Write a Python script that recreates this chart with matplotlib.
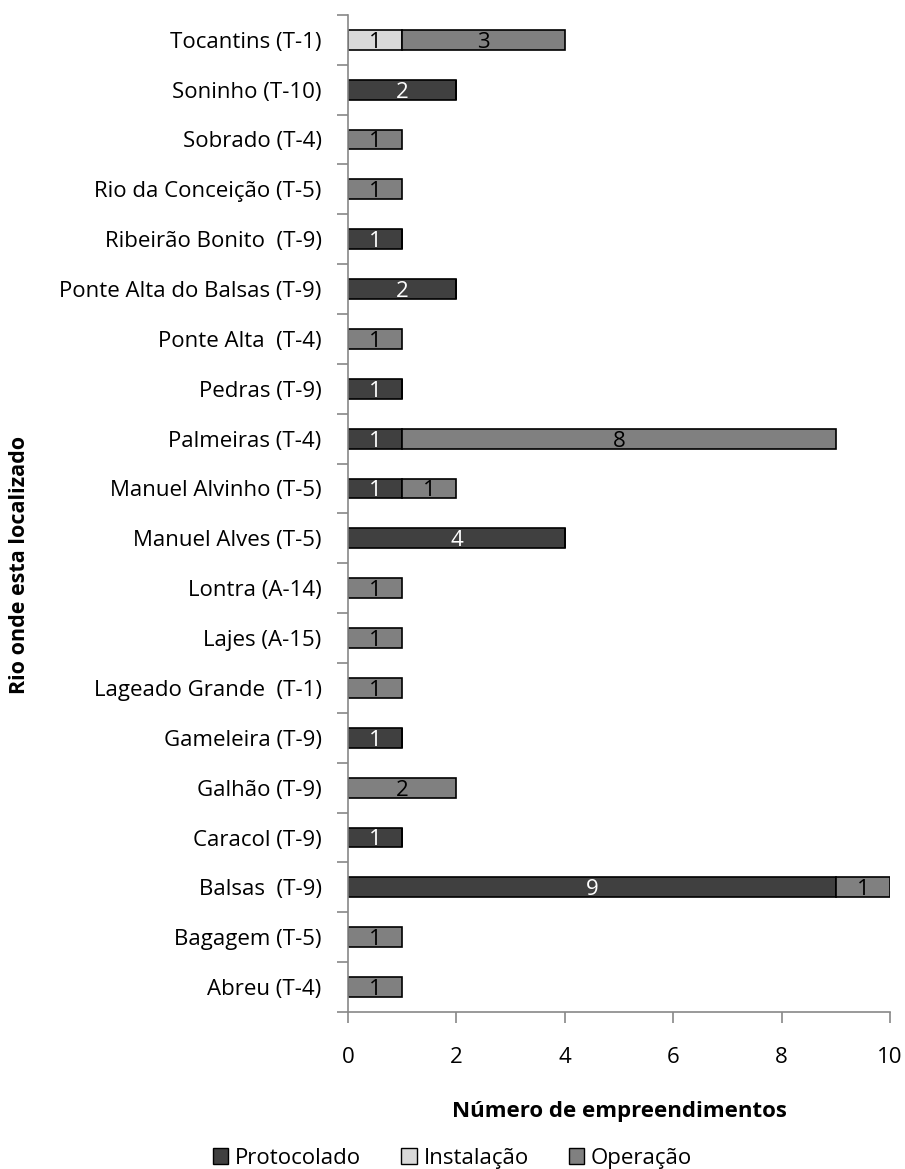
import numpy as np
import matplotlib
matplotlib.use("Agg")
import matplotlib.pyplot as plt
from matplotlib.patches import Patch

plt.rcParams['font.family'] = ['Open Sans', 'DejaVu Sans']

# categorias de cima para baixo, como no grafico
rios = ["Tocantins (T-1)", "Soninho (T-10)", "Sobrado (T-4)", "Rio da Conceição (T-5)",
        "Ribeirão Bonito  (T-9)", "Ponte Alta do Balsas (T-9)", "Ponte Alta  (T-4)",
        "Pedras (T-9)", "Palmeiras (T-4)", "Manuel Alvinho (T-5)", "Manuel Alves (T-5)",
        "Lontra (A-14)", "Lajes (A-15)", "Lageado Grande  (T-1)", "Gameleira (T-9)",
        "Galhão (T-9)", "Caracol (T-9)", "Balsas  (T-9)", "Bagagem (T-5)", "Abreu (T-4)"]
protocolado = [0, 2, 0, 0, 1, 2, 0, 1, 1, 1, 4, 0, 0, 0, 1, 0, 1, 9, 0, 0]
instalacao  = [1, 0, 0, 0, 0, 0, 0, 0, 0, 0, 0, 0, 0, 0, 0, 0, 0, 0, 0, 0]
operacao    = [3, 0, 1, 1, 0, 0, 1, 0, 8, 1, 0, 1, 1, 1, 0, 2, 0, 1, 1, 1]

series = [("Protocolado", protocolado, "#404040", "white"),
          ("Instalação", instalacao, "#d9d9d9", "black"),
          ("Operação", operacao, "#808080", "black")]

fs = 16

fig = plt.figure(figsize=(9.05, 11.69), dpi=100)
ax = fig.add_axes([0.3845, 0.1343, 0.599, 0.853])

n = len(rios)
y = np.arange(n)[::-1]
left = np.zeros(n)
for nome, vals, cor, cor_txt in series:
    vals = np.array(vals, dtype=float)
    ax.barh(y, vals, left=left, height=0.4, color=cor, edgecolor="black",
            linewidth=1.2, label=nome)
    for yi, l, v in zip(y, left, vals):
        if v > 0:
            ax.text(l + v / 2, yi - 0.05, "%d" % v, ha="center", va="center",
                    color=cor_txt, fontsize=fs)
    left = left + vals

ax.set_xlim(0, 10)
ax.set_ylim(-0.5, n - 0.5)
ax.set_xticks(np.arange(0, 11, 2))
ax.set_yticks(y)
ax.set_yticklabels(rios, fontsize=fs)
ax.set_yticks(np.arange(-0.5, n, 1), minor=True)
ax.tick_params(axis="y", which="major", length=0, pad=19)
ax.tick_params(axis="y", which="minor", length=8, color="#888888", width=1.2)
ax.tick_params(axis="x", length=8, color="#888888", width=1.2, pad=17, labelsize=fs)
for s in ["top", "right"]:
    ax.spines[s].set_visible(False)
for s in ["left", "bottom"]:
    ax.spines[s].set_color("#888888")
    ax.spines[s].set_linewidth(1.2)

ax.set_xlabel("Número de empreendimentos", fontsize=fs, fontweight="bold", labelpad=24)
fig.text(0.021, 0.517, "Rio onde esta localizado", rotation=90, fontsize=fs - 0.5,
         fontweight="bold", ha="center", va="center")

handles = [Patch(facecolor=c, edgecolor="black", label=nm) for nm, _, c, _ in series]
fig.legend(handles=handles, loc="center", bbox_to_anchor=(0.5, 0.009), ncol=3,
           frameon=False, fontsize=fs, handlelength=0.7, handleheight=0.7,
           handletextpad=0.3, columnspacing=1.8)

fig.savefig("out.png", dpi=100)
